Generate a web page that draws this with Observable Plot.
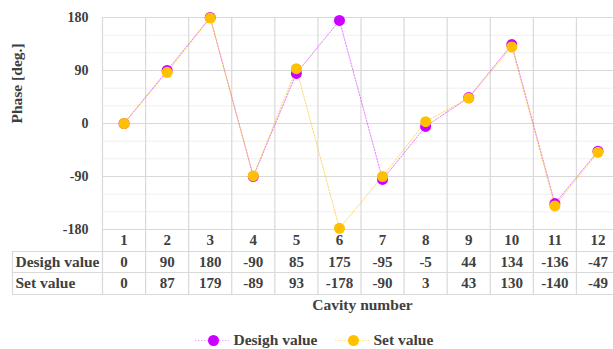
<!DOCTYPE html>
<html>
<head>
<meta charset="utf-8">
<script src="https://cdn.jsdelivr.net/npm/d3@7"></script>
<script src="https://cdn.jsdelivr.net/npm/@observablehq/plot@0.6"></script>
<style>
  html, body { margin: 0; padding: 0; background: #fff; }
  #chart { width: 613px; height: 349px; overflow: hidden; }
</style>
</head>
<body>
<div id="chart"></div>
<script>
const cavities = [1, 2, 3, 4, 5, 6, 7, 8, 9, 10, 11, 12];
const designValues = [0, 90, 180, -90, 85, 175, -95, -5, 44, 134, -136, -47];
const setValues = [0, 87, 179, -89, 93, -178, -90, 3, 43, 130, -140, -49];
const yTicks = [-180, -90, 0, 90, 180];
const yMinorTicks = [-150, -120, -60, -30, 30, 60, 120, 150];
const seriesNames = ["Desigh value", "Set value"];
const axisTitles = { y: "Phase [deg.]", x: "Cavity number" };
const colors = ["#cc00ff", "#ffc000"];

const design = cavities.map((c, i) => ({ cavity: c, value: designValues[i] }));
const setv = cavities.map((c, i) => ({ cavity: c, value: setValues[i] }));
const boundaries = cavities.map(c => c - 0.5);

const textColor = "#404040";
const gridMajor = "#d9d9d9";
const gridMinor = "#efefef";
const font = "'Liberation Serif', 'Times New Roman', serif";
const legendDy = 111;

const plot = Plot.plot({
  width: 613,
  height: 349,
  marginLeft: 102,
  marginRight: 0,
  marginTop: 17,
  marginBottom: 120,
  style: {
    fontFamily: font,
    fontWeight: "bold",
    color: textColor,
    background: "#fff",
    overflow: "hidden"
  },
  x: { domain: [0.5, 12.5], range: [102, 619], axis: null },
  y: { domain: [-180, 180], axis: null },
  marks: [
    // grid
    Plot.ruleY(yMinorTicks, { stroke: gridMinor, strokeWidth: 1 }),
    Plot.ruleY(yTicks, { stroke: gridMajor, strokeWidth: 1.2 }),
    Plot.ruleX(boundaries, { y1: 180, y2: -180, insetBottom: -65, stroke: gridMajor, strokeWidth: 1.2 }),
    // table horizontal lines
    Plot.ruleY([-180], { dy: 22, insetLeft: -90, stroke: gridMajor, strokeWidth: 1.2 }),
    Plot.ruleY([-180], { dy: 43, insetLeft: -90, stroke: gridMajor, strokeWidth: 1.2 }),
    Plot.ruleY([-180], { dy: 65, insetLeft: -90, stroke: gridMajor, strokeWidth: 1.2 }),
    Plot.ruleX([0.5], { dx: -90, y1: -180, y2: -180, insetTop: 22, insetBottom: -65, stroke: gridMajor, strokeWidth: 1.2 }),
    // y tick labels
    Plot.text(yTicks, { y: d => d, text: d => String(d), frameAnchor: "left", textAnchor: "end", lineAnchor: "middle", dx: -14, fontSize: 14, fontFamily: font }),
    // y axis title
    Plot.text([axisTitles.y], { frameAnchor: "left", lineAnchor: "middle", rotate: -90, dx: -85, fontSize: 15.5, fontFamily: font }),
    // series lines
    Plot.line(design, { x: "cavity", y: "value", stroke: colors[0], strokeOpacity: 0.5, strokeWidth: 1, strokeDasharray: "1.5,1.5" }),
    Plot.line(setv, { x: "cavity", y: "value", stroke: colors[1], strokeOpacity: 0.6, strokeWidth: 1, strokeDasharray: "1.5,1.5" }),
    // series markers
    Plot.dot(design, { x: "cavity", y: "value", r: 5.5, fill: colors[0], stroke: "none" }),
    Plot.dot(setv, { x: "cavity", y: "value", r: 5.5, fill: colors[1], stroke: "none" }),
    // table
    Plot.text(cavities, { x: d => d, y: () => -180, text: d => String(d), lineAnchor: "middle", dy: 11, fontSize: 15, fontFamily: font }),
    Plot.text(design, { x: "cavity", y: () => -180, text: d => String(d.value), lineAnchor: "middle", dy: 32.5, fontSize: 15, fontFamily: font }),
    Plot.text(setv, { x: "cavity", y: () => -180, text: d => String(d.value), lineAnchor: "middle", dy: 54, fontSize: 15, fontFamily: font }),
    Plot.text([seriesNames[0]], { frameAnchor: "bottom-left", textAnchor: "start", lineAnchor: "middle", dx: -87, dy: 32.5, fontSize: 15.5, fontFamily: font }),
    Plot.text([seriesNames[1]], { frameAnchor: "bottom-left", textAnchor: "start", lineAnchor: "middle", dx: -87, dy: 54, fontSize: 15.5, fontFamily: font }),
    // x axis title
    Plot.text([axisTitles.x], { frameAnchor: "bottom", lineAnchor: "middle", dx: 4.5, dy: 76, fontSize: 15.5, fontFamily: font }),
    // legend
    Plot.ruleY([-180], { dy: legendDy, insetLeft: 93, insetRight: 384, stroke: colors[0], strokeOpacity: 0.35, strokeDasharray: "1.5,1.5" }),
    Plot.dot([seriesNames[0]], { frameAnchor: "bottom-left", dx: 111, dy: legendDy, r: 5.5, fill: colors[0], stroke: "none" }),
    Plot.text([seriesNames[0]], { frameAnchor: "bottom-left", textAnchor: "start", lineAnchor: "middle", dx: 131, dy: legendDy, fontSize: 15.5, fontFamily: font }),
    Plot.ruleY([-180], { dy: legendDy, insetLeft: 233, insetRight: 243, stroke: colors[1], strokeOpacity: 0.45, strokeDasharray: "1.5,1.5" }),
    Plot.dot([seriesNames[1]], { frameAnchor: "bottom-left", dx: 251, dy: legendDy, r: 5.5, fill: colors[1], stroke: "none" }),
    Plot.text([seriesNames[1]], { frameAnchor: "bottom-left", textAnchor: "start", lineAnchor: "middle", dx: 271, dy: legendDy, fontSize: 15.5, fontFamily: font })
  ]
});
document.getElementById("chart").appendChild(plot);
</script>
</body>
</html>
